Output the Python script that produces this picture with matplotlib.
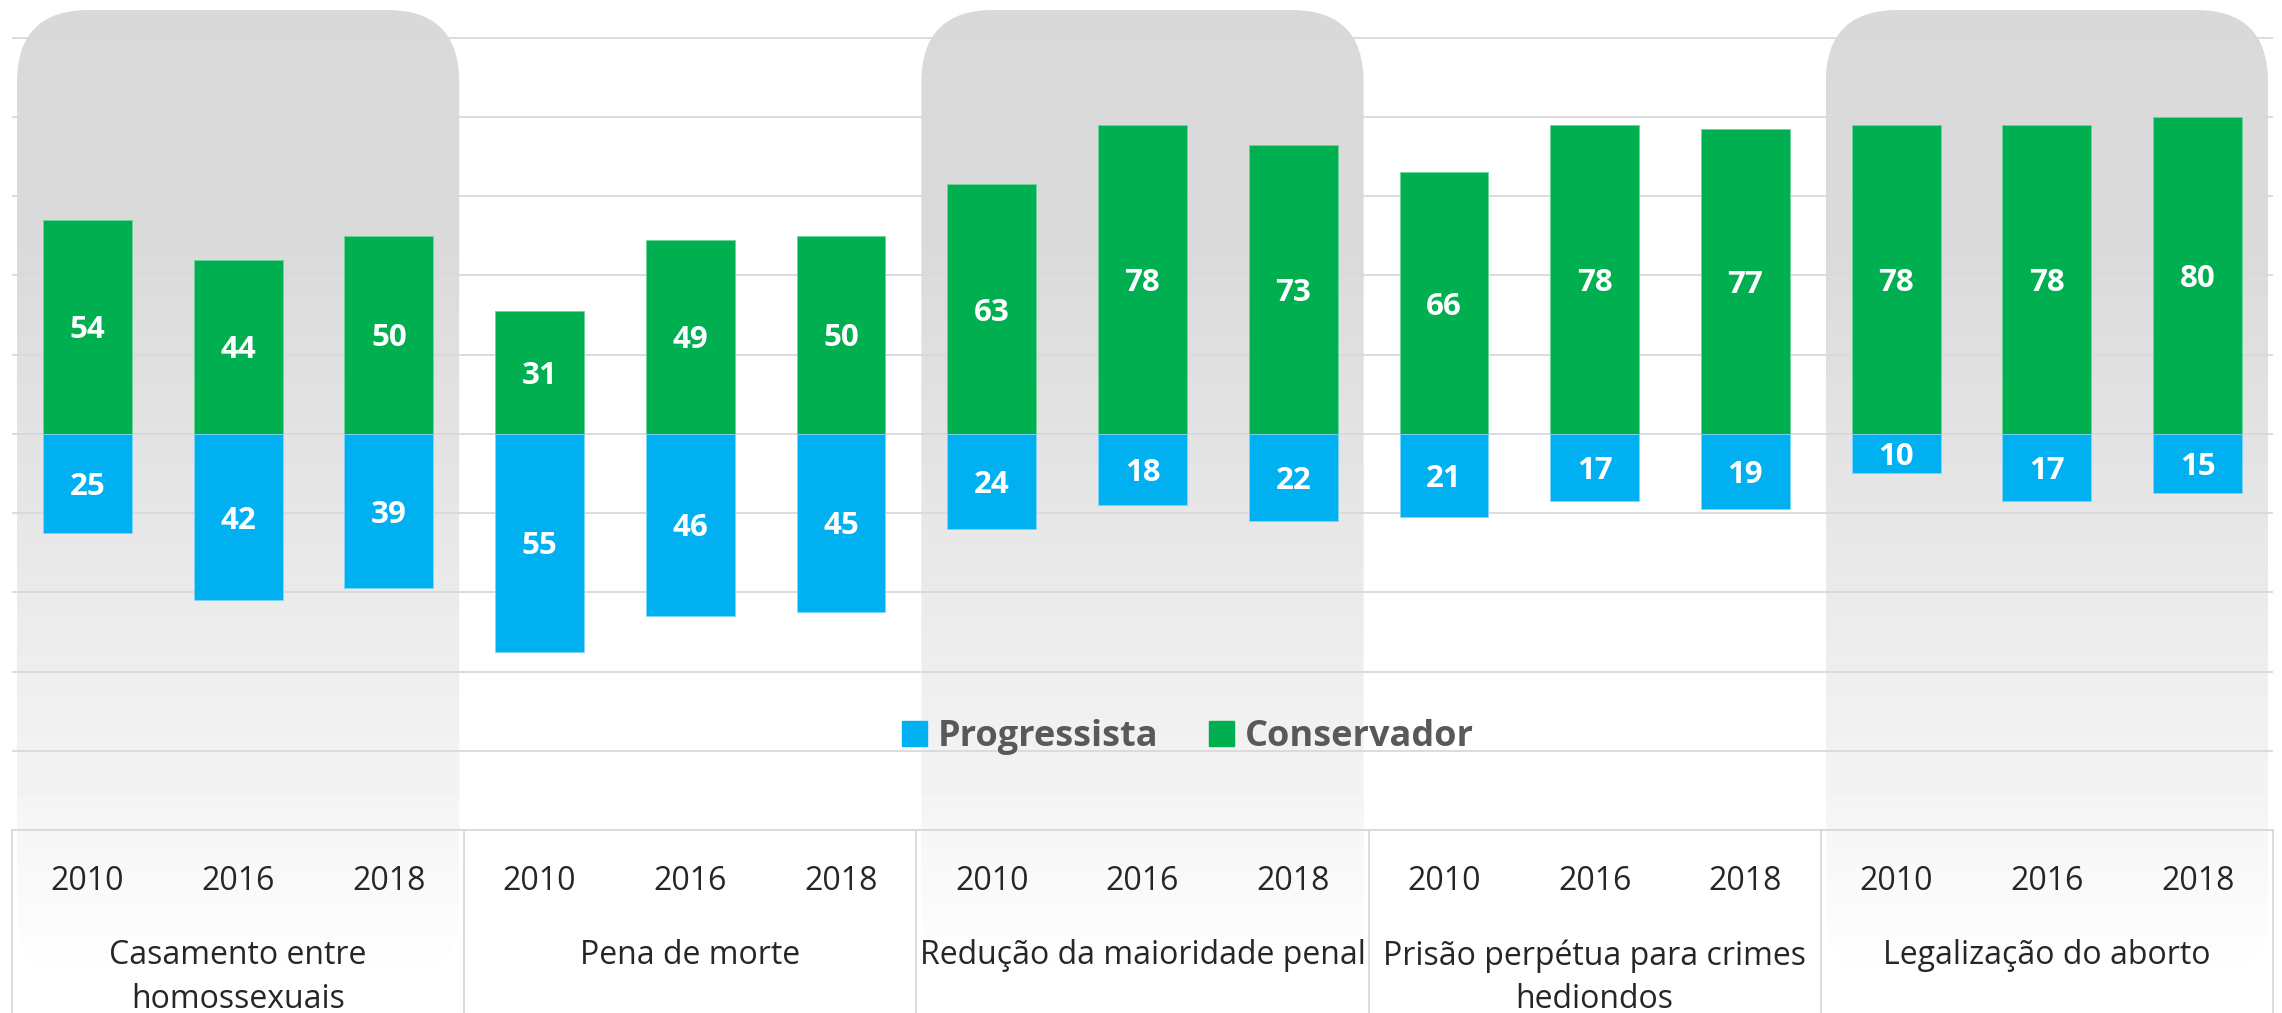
import numpy as np
import matplotlib
matplotlib.use("Agg")
import matplotlib.pyplot as plt
from matplotlib.patches import FancyBboxPatch, Patch

plt.rcParams['font.family'] = ['Open Sans', 'DejaVu Sans']

# data
topics = ['Casamento entre\nhomossexuais', 'Pena de morte', 'Redução da maioridade penal',
          'Prisão perpétua para crimes\nhediondos', 'Legalização do aborto']
years = ['2010', '2016', '2018']
conservador = [54, 44, 50, 31, 49, 50, 63, 78, 73, 66, 78, 77, 78, 78, 80]
progressista = [25, 42, 39, 55, 46, 45, 24, 18, 22, 21, 17, 19, 10, 17, 15]

green = '#00B050'
blue = '#00B0F0'
grid_c = '#d9d9d9'

W, H = 2282, 1013
fig = plt.figure(figsize=(W / 100, H / 100), dpi=100)

# background layer in pixel units
bg = fig.add_axes([0, 0, 1, 1], zorder=0)
bg.set_xlim(0, W)
bg.set_ylim(0, H)
bg.axis('off')

ax = fig.add_axes([12 / W, (H - 830) / H, (2273 - 12) / W, (830 - 6) / H], zorder=1)
ax.patch.set_visible(False)

n = len(conservador)
x = np.arange(n)
b1 = ax.bar(x, conservador, width=0.59, color=green, edgecolor='#6fd49a', linewidth=0.6, zorder=3)
b2 = ax.bar(x, [-v for v in progressista], width=0.59, color=blue, edgecolor='#7fd6f7', linewidth=0.6, zorder=3)
lab1 = ax.bar_label(b1, labels=[str(v) for v in conservador], label_type='center',
                    color='white', fontsize=22.5, fontweight='bold')
lab2 = ax.bar_label(b2, labels=[str(v) for v in progressista], label_type='center',
                    color='white', fontsize=22.5, fontweight='bold')
for t in lab1 + lab2:
    t.set_va('center_baseline')

ax.set_xlim(-0.5, n - 0.5)
ax.set_ylim(-100, 108)
ax.set_yticks(range(-100, 101, 20))
ax.set_yticklabels([])
ax.set_xticks([])
ax.tick_params(length=0)
ax.yaxis.grid(True, color=grid_c, linewidth=1.3)
ax.set_axisbelow(True)
for s in ['top', 'right', 'left']:
    ax.spines[s].set_visible(False)
ax.spines['bottom'].set_color(grid_c)
ax.spines['bottom'].set_linewidth(1.3)

# category table below the plot
xt = ax.get_xaxis_transform()
for g in range(len(topics) + 1):
    ax.plot([3 * g - 0.5] * 2, [0, -1], transform=xt, color=grid_c, lw=1.3, clip_on=False)
for i in range(n):
    ax.annotate(years[i % 3], xy=(i, 0), xycoords=xt, xytext=(0, -51), textcoords='offset pixels',
                ha='center', va='center', fontsize=23, color='#262626')
for g, t in enumerate(topics):
    ax.annotate(t, xy=(3 * g + 1, 0), xycoords=xt, xytext=(0, -109), textcoords='offset pixels',
                ha='center', va='top', fontsize=23, color='#262626', linespacing=1.42)

# rounded gradient panels behind groups 1, 3, 5
top_px, bot_px = 10, 982
stops_y = [10, 250, 780, 985]
stops_v = [217, 218, 243, 255]
ys = np.linspace(H - bot_px, H - top_px, 300)
vals = np.interp(H - ys, stops_y, stops_v)
grad = np.repeat(vals[:, None], 2, axis=1)
for g in (0, 2, 4):
    x0 = ax.transData.transform((3 * g - 0.5, 0))[0] + 5
    x1 = ax.transData.transform((3 * g + 2.5, 0))[0] - 5
    patch = FancyBboxPatch((x0, H - bot_px), x1 - x0, bot_px - top_px,
                           boxstyle='round,pad=0,rounding_size=72',
                           facecolor='none', edgecolor='none')
    bg.add_patch(patch)
    im = bg.imshow(grad, extent=[x0, x1, H - bot_px, H - top_px], origin='lower',
                   cmap='gray', vmin=0, vmax=255, aspect='auto', interpolation='bilinear')
    im.set_clip_path(patch)

handles = [Patch(facecolor=blue, edgecolor=blue), Patch(facecolor=green, edgecolor=green)]
leg = fig.legend(handles, ['Progressista', 'Conservador'], loc='center',
                 bbox_to_anchor=(1188 / W, 1 - 737 / H), bbox_transform=fig.transFigure,
                 ncol=2, frameon=False, handlelength=0.7, handleheight=0.7,
                 handletextpad=0.3, columnspacing=1.4,
                 prop={'size': 26, 'weight': 'bold'})
for t in leg.get_texts():
    t.set_color('#595959')

fig.savefig('out.png', dpi=100)
